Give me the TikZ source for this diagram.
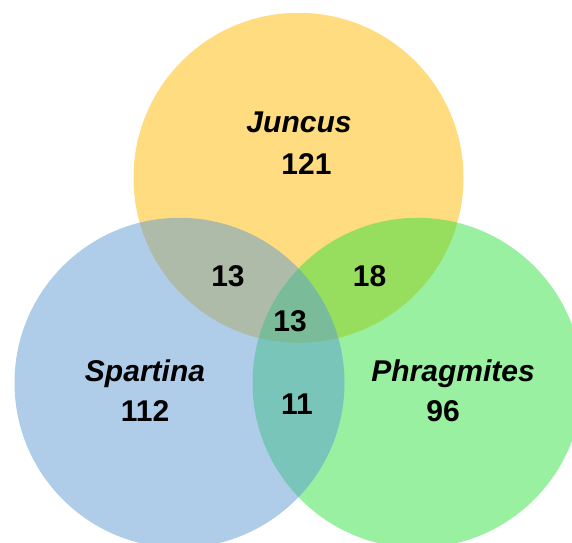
\documentclass[tikz,border=0pt]{standalone}
\usepackage{fontspec}
\setmainfont{Liberation Sans}
\definecolor{cyellow}{HTML}{FFB900}
\definecolor{cgreen}{HTML}{31E141}
\definecolor{cblue}{HTML}{5F9BD3}
\begin{document}
\begin{tikzpicture}[x=1pt,y=-1pt,
  setfill/.style={fill opacity=0.5, draw=none},
  lbl/.style={anchor=base, inner sep=0pt, font=\fontsize{30}{36}\selectfont\bfseries\itshape},
  num/.style={anchor=base, inner sep=0pt, font=\fontsize{30}{36}\selectfont\bfseries}]
\useasboundingbox (0,0) rectangle (572,542);
\begin{scope}
\clip (0,0) rectangle (572,542);
\fill[setfill, cyellow] (298.5,177.8) circle[radius=165];
\fill[setfill, cgreen] (417.5,382.8) circle[radius=165];
\fill[setfill, cblue] (179.5,382.8) circle[radius=165];
\end{scope}
\node[lbl] (jun) at (299,132.4) {Juncus};
\node[num] (n121) at (306.5,174.5) {121};
\node[num] (n13a) at (228,286) {13};
\node[num] (n18) at (369.6,286) {18};
\node[num] (n13b) at (290,331) {13};
\node[lbl] (spa) at (145,381) {Spartina};
\node[num] (n112) at (145,421) {112};
\node[num] (n11) at (297,414.8) {11};
\node[lbl] (phr) at (453,381) {Phragmites};
\node[num] (n96) at (443,421) {96};
\end{tikzpicture}
\end{document}
